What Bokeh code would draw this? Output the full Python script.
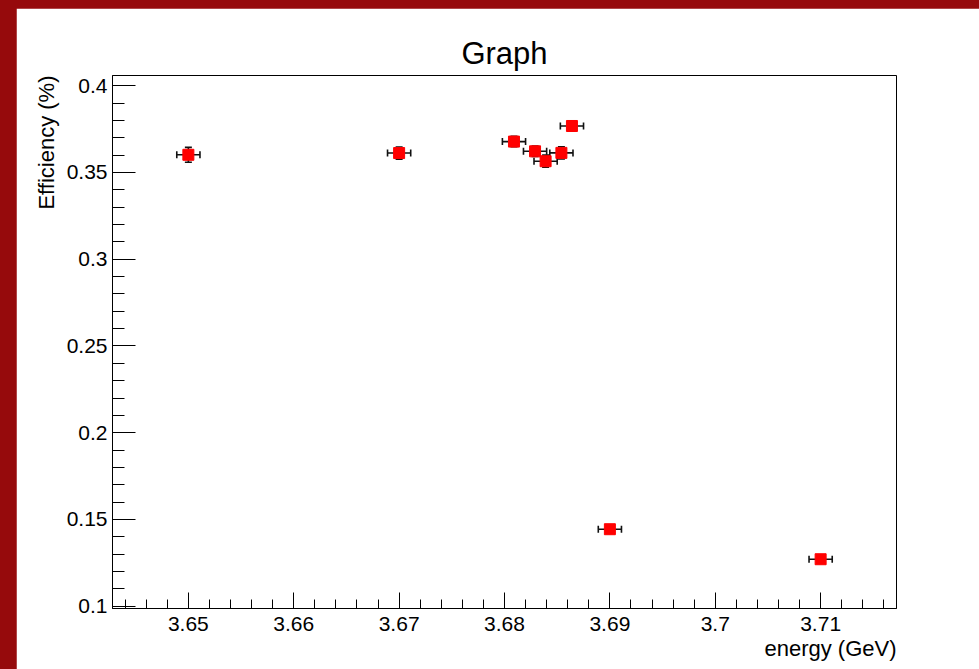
from bokeh.plotting import figure
from bokeh.models import (Range1d, FixedTicker, CustomJSTickFormatter, Whisker,
                          TeeHead, ColumnDataSource, Title, Column)
from bokeh.embed import file_html
from bokeh.resources import INLINE

# ---- data ----
energy = [3.65, 3.67, 3.6809, 3.6829, 3.6839, 3.6854, 3.6864, 3.69, 3.71]
efficiency = [0.3602, 0.3612, 0.3678, 0.3622, 0.3565, 0.3613, 0.3768, 0.1444, 0.1271]
energy_err = [0.0011, 0.0011, 0.0011, 0.0011, 0.0011, 0.0011, 0.0011, 0.0011, 0.0011]
efficiency_err = [0.0043, 0.0035, 0.003, 0.003, 0.0035, 0.0035, 0.003, 0.002, 0.002]

x_ticks = [3.65, 3.66, 3.67, 3.68, 3.69, 3.70, 3.71]
x_minor = [round(3.644 + 0.002 * i, 3) for i in range(37)]
y_ticks = [0.10, 0.15, 0.20, 0.25, 0.30, 0.35, 0.40]
y_minor = [round(0.10 + 0.01 * i, 2) for i in range(31)]

title_text = "Graph"
x_title = "energy (GeV)"
y_title = "Efficiency (%)"

FONT = "Liberation Sans"

src = ColumnDataSource(dict(
    x=energy, y=efficiency,
    xl=[a - b for a, b in zip(energy, energy_err)],
    xu=[a + b for a, b in zip(energy, energy_err)],
    yl=[a - b for a, b in zip(efficiency, efficiency_err)],
    yu=[a + b for a, b in zip(efficiency, efficiency_err)],
))

W, H = 963, 661
p = figure(width=W, height=H, output_backend="svg", toolbar_location=None,
           x_range=Range1d(3.6428, 3.7172), y_range=Range1d(0.0987, 0.4059),
           min_border_left=96, min_border_right=83, min_border_top=67,
           min_border_bottom=61, tools="",
           title=Title(text=title_text, align="center", vertical_align="top",
                       text_font=FONT, text_font_size="31px", text_font_style="normal",
                       text_color="black", standoff=5))
p.margin = (8, 0, 0, 16)
p.background_fill_color = "white"
p.border_fill_color = "white"
p.outline_line_color = "black"
p.outline_line_width = 1
p.xgrid.visible = False
p.ygrid.visible = False

fmt = CustomJSTickFormatter(code="return String(parseFloat(tick.toFixed(4)));")

xa = p.xaxis[0]
xa.ticker = FixedTicker(ticks=x_ticks, minor_ticks=x_minor)
xa.formatter = fmt
xa.major_tick_in = 16
xa.major_tick_out = 0
xa.minor_tick_in = 9
xa.minor_tick_out = 0
xa.major_label_standoff = 8

ya = p.yaxis[0]
ya.ticker = FixedTicker(ticks=y_ticks, minor_ticks=y_minor)
ya.formatter = fmt
ya.major_tick_in = 23
ya.major_tick_out = 0
ya.minor_tick_in = 12
ya.minor_tick_out = 0
ya.major_label_standoff = 5

for ax in (xa, ya):
    ax.axis_line_color = "black"
    ax.major_tick_line_color = "black"
    ax.minor_tick_line_color = "black"
    ax.major_label_text_font = FONT
    ax.major_label_text_font_size = "21px"
    ax.major_label_text_color = "black"

# axis titles (right-aligned like ROOT)
p.add_layout(Title(text=x_title, align="right", text_font=FONT, text_font_size="22px",
                   text_font_style="normal", text_color="black", standoff=0), "below")
p.add_layout(Title(text=y_title, align="right", vertical_align="top", text_font=FONT,
                   text_font_size="22px", text_font_style="normal", text_color="black",
                   standoff=5), "left")

# error bars
p.add_layout(Whisker(source=src, base="x", lower="yl", upper="yu", dimension="height",
                     line_color="#111111", line_width=1.6,
                     lower_head=TeeHead(size=7, line_color="#111111", line_width=1.6),
                     upper_head=TeeHead(size=7, line_color="#111111", line_width=1.6)))
p.add_layout(Whisker(source=src, base="y", lower="xl", upper="xu", dimension="width",
                     line_color="#111111", line_width=1.6,
                     lower_head=TeeHead(size=7, line_color="#111111", line_width=1.6),
                     upper_head=TeeHead(size=7, line_color="#111111", line_width=1.6)))

p.scatter("x", "y", source=src, marker="square", size=11,
          fill_color="#ff0000", line_color="#ff0000")

layout = Column(children=[p], width=979, height=669,
                styles={"background-color": "#960a0c"})

open("out.html", "w").write(file_html(layout, INLINE))
